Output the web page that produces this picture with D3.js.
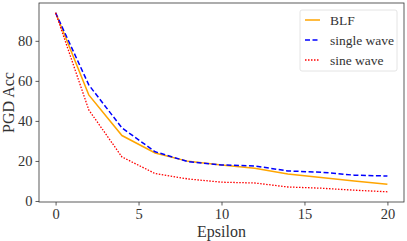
<!DOCTYPE html>
<html>
<head>
<meta charset="utf-8">
<script src="https://cdn.jsdelivr.net/npm/d3@7"></script>
<style>
  body { margin: 0; background: #fff; }
  svg text { font-family: "Liberation Serif", "DejaVu Serif", serif; fill: #333; }
</style>
</head>
<body>
<svg id="chart" width="407" height="241"></svg>
<script>
const epsilon = [0, 2, 4, 6, 8, 10, 12, 14, 16, 18, 20];
const blf = [94, 53, 32.7, 24, 19.8, 18, 16.3, 13.5, 11.7, 10, 8.4];
const singleWave = [94, 58, 36.5, 24.6, 19.6, 18, 17.5, 15, 14.4, 12.9, 12.5];
const sineWave = [94, 45.5, 22, 13.7, 11, 9.4, 9, 7, 6.4, 5.4, 4.6];
const xTicks = [0, 5, 10, 15, 20];
const yTicks = [0, 20, 40, 60, 80];

const series = [
    { name: "BLF", values: blf, color: "orange", dash: null, width: 1.5 },
    { name: "single wave", values: singleWave, color: "blue", dash: "5,2.5", width: 1.5 },
    { name: "sine wave", values: sineWave, color: "red", dash: "1.5,1.5", width: 1.3 }
];

const svg = d3.select("#chart");
const margin = { left: 39, right: 3, top: 3, bottom: 39 };
const width = +svg.attr("width");
const height = +svg.attr("height");

const x = d3.scaleLinear().domain([-1, 21]).range([margin.left, width - margin.right]);
const y = d3.scaleLinear().domain([-0.5, 98.9]).range([height - margin.bottom, margin.top]);

const xAxis = svg.append("g")
    .attr("transform", `translate(0,${height - margin.bottom})`)
    .call(d3.axisBottom(x).tickValues(xTicks).tickSize(3.5).tickPadding(3).tickFormat(d3.format("d")));
const yAxis = svg.append("g")
    .attr("transform", `translate(${margin.left},0)`)
    .call(d3.axisLeft(y).tickValues(yTicks).tickSize(3.5).tickPadding(3).tickFormat(d3.format("d")));

[xAxis, yAxis].forEach(a => {
    a.select(".domain").remove();
    a.selectAll("line").attr("stroke", "#333").attr("stroke-width", 0.8);
    a.selectAll("text").style("font-size", "14.5px").attr("fill", "#333");
});

svg.append("rect")
    .attr("x", margin.left).attr("y", margin.top)
    .attr("width", width - margin.left - margin.right)
    .attr("height", height - margin.top - margin.bottom)
    .attr("fill", "none").attr("stroke", "#333").attr("stroke-width", 0.8);

const line = d3.line().x((d, i) => x(epsilon[i])).y(d => y(d));

series.forEach(s => {
    svg.append("path")
        .datum(s.values)
        .attr("d", line)
        .attr("fill", "none")
        .attr("stroke", s.color)
        .attr("stroke-width", s.width)
        .attr("stroke-dasharray", s.dash);
});

svg.append("text")
    .attr("x", x(10)).attr("y", 237)
    .attr("text-anchor", "middle")
    .style("font-size", "16px")
    .text("Epsilon");

svg.append("text")
    .attr("transform", `translate(14,${(margin.top + height - margin.bottom) / 2}) rotate(-90)`)
    .attr("text-anchor", "middle")
    .style("font-size", "16px")
    .text("PGD Acc");

// legend
const legend = svg.append("g").attr("transform", "translate(300,10)");
legend.append("rect")
    .attr("width", 97).attr("height", 61).attr("rx", 2)
    .attr("fill", "#fff").attr("fill-opacity", 0.8)
    .attr("stroke", "#ddd").attr("stroke-width", 0.8);

series.forEach((s, i) => {
    const g = legend.append("g").attr("transform", `translate(0,${10 + i * 20})`);
    g.append("line")
        .attr("x1", 5).attr("x2", 20)
        .attr("stroke", s.color)
        .attr("stroke-width", s.width)
        .attr("stroke-dasharray", s.dash);
    g.append("text")
        .attr("x", 30).attr("y", 4.5)
        .style("font-size", "13.5px")
        .text(s.name);
});
</script>
</body>
</html>
